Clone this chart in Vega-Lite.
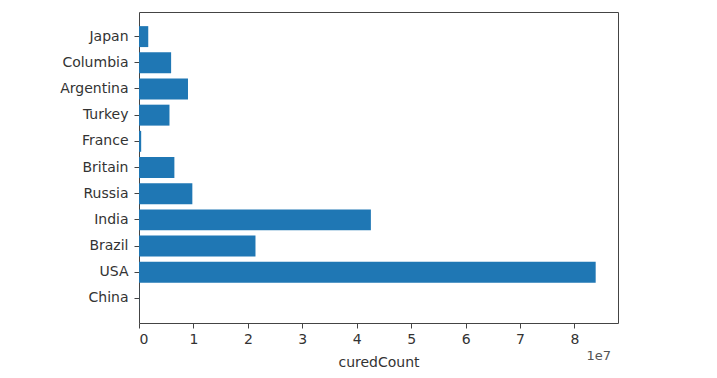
{
  "$schema": "https://vega.github.io/schema/vega-lite/v6.json",
  "width": 479,
  "height": 311,
  "autosize": {"type": "none"},
  "padding": {"left": 139, "top": 12, "right": 99, "bottom": 55},
  "background": "white",
  "title": {
    "text": "1e7",
    "orient": "bottom",
    "anchor": "end",
    "font": "DejaVu Sans",
    "fontSize": 13,
    "fontWeight": "normal",
    "color": "#555",
    "offset": -19,
    "dx": -7
  },
  "config": {
    "view": {"stroke": "#444", "strokeWidth": 1},
    "axis": {
      "labelFont": "DejaVu Sans",
      "titleFont": "DejaVu Sans",
      "labelFontSize": 14,
      "titleFontSize": 14,
      "labelColor": "#333",
      "titleColor": "#333",
      "titleFontWeight": "normal",
      "domain": false,
      "grid": false,
      "tickColor": "#444",
      "tickSize": 5
    },
    "axisY": {"labelPadding": 6},
    "axisX": {"labelPadding": 4}
  },
  "data": {
    "values": [
      {"country": "China", "curedCount": 20000},
      {"country": "USA", "curedCount": 83900000},
      {"country": "Brazil", "curedCount": 21400000},
      {"country": "India", "curedCount": 42600000},
      {"country": "Russia", "curedCount": 9800000},
      {"country": "Britain", "curedCount": 6500000},
      {"country": "France", "curedCount": 400000},
      {"country": "Turkey", "curedCount": 5600000},
      {"country": "Argentina", "curedCount": 9000000},
      {"country": "Columbia", "curedCount": 5900000},
      {"country": "Japan", "curedCount": 1700000}
    ]
  },
  "mark": {"type": "bar", "color": "#1f77b4"},
  "encoding": {
    "y": {
      "field": "country",
      "type": "nominal",
      "sort": ["Japan", "Columbia", "Argentina", "Turkey", "France", "Britain", "Russia", "India", "Brazil", "USA", "China"],
      "scale": {"paddingInner": 0.2, "paddingOuter": 0.54},
      "axis": {"title": null}
    },
    "x": {
      "field": "curedCount",
      "type": "quantitative",
      "scale": {"domain": [0, 88000000], "nice": false, "zero": true},
      "axis": {
        "title": "curedCount",
        "values": [0, 10000000, 20000000, 30000000, 40000000, 50000000, 60000000, 70000000, 80000000],
        "labelExpr": "format(datum.value / 10000000, 'd')",
        "titlePadding": 9
      }
    }
  }
}
